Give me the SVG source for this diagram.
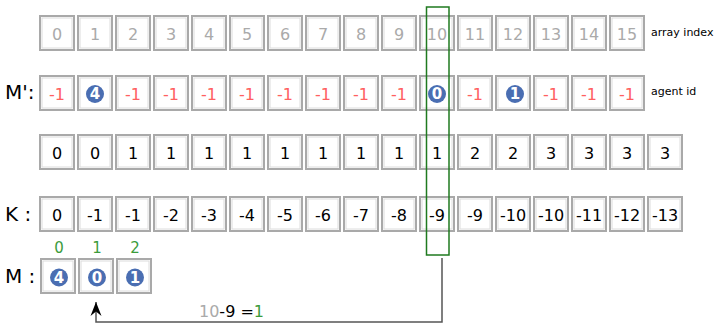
<svg xmlns="http://www.w3.org/2000/svg" width="715" height="324" viewBox="0 0 715 324">
<defs>
<style>
.c{fill:#fff;stroke:#a9a9a9;stroke-width:2}
.ci{fill:none;stroke:#dcdcdc;stroke-width:1}
text{font-family:"DejaVu Sans",sans-serif}
.t{font-size:16px;text-anchor:middle}
.g{fill:#aaa}
.k{fill:#000}
.r{fill:#ff6060}
.gr{fill:#3c9c3c}
.dot{fill:#4a6eb2}
.dt{font-size:15px;font-weight:bold;fill:#fff;text-anchor:middle}
.lab{font-size:20px;fill:#000}
.sm{font-size:11px;fill:#000}
</style>
<g id="cell"><rect class="c" x="0" y="0" width="34" height="34"/><rect class="ci" x="2" y="2" width="30" height="30"/></g>
<marker id="ah" markerUnits="userSpaceOnUse" markerWidth="16" markerHeight="14" viewBox="-14 -7 16 14" refX="0" refY="0" orient="auto">
<path d="M0,0 L-14,-5.5 L-9.5,0 L-14,5.5 Z" fill="#000"/>
</marker>
</defs>
<rect width="715" height="324" fill="#fff"/>

<g id="row-index">
<use href="#cell" x="40" y="16"/><use href="#cell" x="78" y="16"/><use href="#cell" x="116" y="16"/><use href="#cell" x="154" y="16"/>
<use href="#cell" x="192" y="16"/><use href="#cell" x="230" y="16"/><use href="#cell" x="268" y="16"/><use href="#cell" x="306" y="16"/>
<use href="#cell" x="344" y="16"/><use href="#cell" x="382" y="16"/><use href="#cell" x="420" y="16"/><use href="#cell" x="458" y="16"/>
<use href="#cell" x="496" y="16"/><use href="#cell" x="534" y="16"/><use href="#cell" x="572" y="16"/><use href="#cell" x="610" y="16"/>
<g class="t g">
<text x="57" y="40">0</text><text x="95" y="40">1</text><text x="133" y="40">2</text><text x="171" y="40">3</text>
<text x="209" y="40">4</text><text x="247" y="40">5</text><text x="285" y="40">6</text><text x="323" y="40">7</text>
<text x="361" y="40">8</text><text x="399" y="40">9</text><text x="437" y="40">10</text><text x="475" y="40">11</text>
<text x="513" y="40">12</text><text x="551" y="40">13</text><text x="589" y="40">14</text><text x="627" y="40">15</text>
</g>
<text class="sm" x="651" y="36">array index</text>
</g>

<g id="row-Mprime">
<text class="lab" x="5" y="99">M':</text>
<use href="#cell" x="40" y="76"/><use href="#cell" x="78" y="76"/><use href="#cell" x="116" y="76"/><use href="#cell" x="154" y="76"/>
<use href="#cell" x="192" y="76"/><use href="#cell" x="230" y="76"/><use href="#cell" x="268" y="76"/><use href="#cell" x="306" y="76"/>
<use href="#cell" x="344" y="76"/><use href="#cell" x="382" y="76"/><use href="#cell" x="420" y="76"/><use href="#cell" x="458" y="76"/>
<use href="#cell" x="496" y="76"/><use href="#cell" x="534" y="76"/><use href="#cell" x="572" y="76"/><use href="#cell" x="610" y="76"/>
<g class="t r">
<text x="57" y="100">-1</text><text x="133" y="100">-1</text><text x="171" y="100">-1</text>
<text x="209" y="100">-1</text><text x="247" y="100">-1</text><text x="285" y="100">-1</text><text x="323" y="100">-1</text>
<text x="361" y="100">-1</text><text x="399" y="100">-1</text><text x="475" y="100">-1</text>
<text x="551" y="100">-1</text><text x="589" y="100">-1</text><text x="627" y="100">-1</text>
</g>
<circle class="dot" cx="95" cy="94" r="9"/><text class="dt" x="95" y="99.3">4</text>
<circle class="dot" cx="437" cy="94" r="9"/><text class="dt" x="437" y="99.3">0</text>
<circle class="dot" cx="515" cy="94" r="9"/><text class="dt" x="515" y="99.3">1</text>
<text class="sm" x="651" y="95">agent id</text>
</g>

<g id="row-count">
<use href="#cell" x="40" y="135"/><use href="#cell" x="78" y="135"/><use href="#cell" x="116" y="135"/><use href="#cell" x="154" y="135"/>
<use href="#cell" x="192" y="135"/><use href="#cell" x="230" y="135"/><use href="#cell" x="268" y="135"/><use href="#cell" x="306" y="135"/>
<use href="#cell" x="344" y="135"/><use href="#cell" x="382" y="135"/><use href="#cell" x="420" y="135"/><use href="#cell" x="458" y="135"/>
<use href="#cell" x="496" y="135"/><use href="#cell" x="534" y="135"/><use href="#cell" x="572" y="135"/><use href="#cell" x="610" y="135"/>
<use href="#cell" x="648" y="135"/>
<g class="t k">
<text x="57" y="159">0</text><text x="95" y="159">0</text><text x="133" y="159">1</text><text x="171" y="159">1</text>
<text x="209" y="159">1</text><text x="247" y="159">1</text><text x="285" y="159">1</text><text x="323" y="159">1</text>
<text x="361" y="159">1</text><text x="399" y="159">1</text><text x="437" y="159">1</text><text x="475" y="159">2</text>
<text x="513" y="159">2</text><text x="551" y="159">3</text><text x="589" y="159">3</text><text x="627" y="159">3</text>
<text x="665" y="159">3</text>
</g>
</g>

<g id="row-K">
<text class="lab" x="5" y="221">K :</text>
<use href="#cell" x="40" y="197"/><use href="#cell" x="78" y="197"/><use href="#cell" x="116" y="197"/><use href="#cell" x="154" y="197"/>
<use href="#cell" x="192" y="197"/><use href="#cell" x="230" y="197"/><use href="#cell" x="268" y="197"/><use href="#cell" x="306" y="197"/>
<use href="#cell" x="344" y="197"/><use href="#cell" x="382" y="197"/><use href="#cell" x="420" y="197"/><use href="#cell" x="458" y="197"/>
<use href="#cell" x="496" y="197"/><use href="#cell" x="534" y="197"/><use href="#cell" x="572" y="197"/><use href="#cell" x="610" y="197"/>
<use href="#cell" x="648" y="197"/>
<g class="t k">
<text x="57" y="221">0</text><text x="95" y="221">-1</text><text x="133" y="221">-1</text><text x="171" y="221">-2</text>
<text x="209" y="221">-3</text><text x="247" y="221">-4</text><text x="285" y="221">-5</text><text x="323" y="221">-6</text>
<text x="361" y="221">-7</text><text x="399" y="221">-8</text><text x="437" y="221">-9</text><text x="475" y="221">-9</text>
<text x="513" y="221">-10</text><text x="551" y="221">-10</text><text x="589" y="221">-11</text><text x="627" y="221">-12</text>
<text x="665" y="221">-13</text>
</g>
</g>

<g id="row-M">
<text class="lab" x="5" y="283">M :</text>
<g class="t gr" style="font-size:15px">
<text x="59" y="253">0</text><text x="97" y="253">1</text><text x="135" y="253">2</text>
</g>
<use href="#cell" x="41" y="259"/><use href="#cell" x="79" y="259"/><use href="#cell" x="117" y="259"/>
<circle class="dot" cx="59" cy="277.5" r="9"/><text class="dt" x="59" y="282.8">4</text>
<circle class="dot" cx="97" cy="277.5" r="9"/><text class="dt" x="97" y="282.8">0</text>
<circle class="dot" cx="135" cy="277.5" r="9"/><text class="dt" x="135" y="282.8">1</text>
</g>

<g id="highlight">
<rect x="426.5" y="7" width="22.5" height="248" fill="none" stroke="#1f7a1f" stroke-width="1.5"/>
</g>

<g id="connectors">
<path d="M442,258 V322 H96 V302" fill="none" stroke="#555" stroke-width="1.5" marker-end="url(#ah)"/>
<text x="199" y="317" style="font-size:16px"><tspan fill="#aaa">10</tspan><tspan fill="#000">-9 =</tspan><tspan fill="#3c9c3c">1</tspan></text>
</g>
</svg>
